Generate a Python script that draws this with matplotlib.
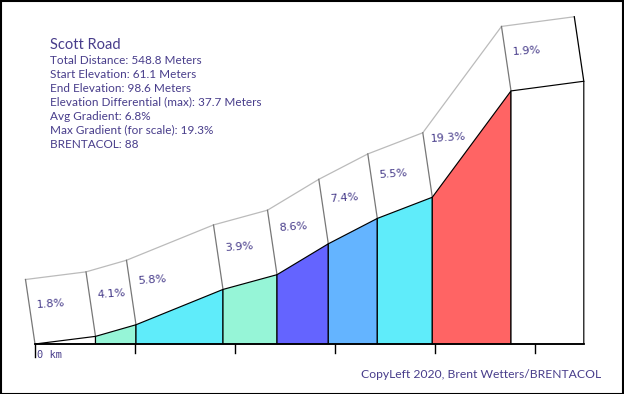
import numpy as np
import matplotlib
matplotlib.use("Agg")
import matplotlib.pyplot as plt
from matplotlib.patches import Polygon, Rectangle

# Climb data (Scott Road)
climb_name = "Scott Road"
start_elev = 61.1
seg_ends = [0, 60.5, 101, 188, 242, 293.3, 342.3, 397.3, 476, 548.8]   # meters
grades = [1.8, 4.1, 5.8, 3.9, 8.6, 7.4, 5.5, 19.3, 1.9]              # percent
info_lines = [
    "Total Distance: 548.8 Meters",
    "Start Elevation: 61.1 Meters",
    "End Elevation: 98.6 Meters",
    "Elevation Differential (max): 37.7 Meters",
    "Avg Gradient: 6.8%",
    "Max Gradient (for scale): 19.3%",
    "BRENTACOL: 88",
]
credit = "CopyLeft 2020, Brent Wetters/BRENTACOL"

TXT = "#483d8b"
VSCALE = 7.0  # pixels per meter of elevation (1 px per meter horizontally)


def grade_color(g):
    # colour scale by gradient
    if g < 2:
        return "white"
    if g < 5:
        return "#96f5d7"
    if g < 7:
        return "#5fecfa"
    if g < 8:
        return "#64b4ff"
    if g < 12:
        return "#6464ff"
    return "#ff6464"


x = np.array(seg_ends, dtype=float)
elev = start_elev + np.concatenate([[0], np.cumsum(np.diff(x) * np.array(grades) / 100)])

fig = plt.figure(figsize=(6.24, 3.94), dpi=100)
ax = fig.add_axes([0, 0, 1, 1])
ax.set_xlim(-35, 589)
ax.set_ylim(start_elev - 50 / VSCALE, start_elev + 344 / VSCALE)
ax.axis("off")

# 3D ribbon offset
dx, dy = -9.5, 64.5 / VSCALE
top_x = x + dx
top_y = elev + dy

ax.plot(top_x, top_y, color="#bbbbbb", lw=0.9, zorder=1)
for i in range(len(x)):
    c = "black" if i == len(x) - 1 else "#777777"
    ax.plot([x[i], top_x[i]], [elev[i], top_y[i]], color=c, lw=0.9, zorder=1)

# segment fills
for i, g in enumerate(grades):
    pts = [(x[i], start_elev), (x[i], elev[i]), (x[i + 1], elev[i + 1]), (x[i + 1], start_elev)]
    ax.add_patch(Polygon(pts, closed=True, facecolor=grade_color(g), edgecolor="black", lw=0.85, zorder=2))

    lx = x[i] + 16
    ly = elev[i] + 16 * g / 100 + 38 / VSCALE
    ax.text(lx, ly, f"{g}%", color=TXT, fontsize=8, family="DejaVu Sans",
            ha="center", va="center", rotation=4, zorder=3)

# distance axis
ax.plot([x[0], x[-1]], [start_elev, start_elev], color="black", lw=1.3, zorder=3)
for t in range(0, int(x[-1]) + 1, 100):
    ln = 13 if t == 0 else 9
    ax.plot([t, t], [start_elev, start_elev - ln / VSCALE], color="black", lw=1.0, zorder=3)
ax.text(2, start_elev - 10.5 / VSCALE, "0 km", family="DejaVu Sans Mono", fontsize=7.5,
        color=TXT, ha="left", va="center")

# info block
fig.text(50 / 624, 1 - 45 / 394, climb_name, color=TXT, fontsize=10.5, family="Lato", va="center")
for k, line in enumerate(info_lines):
    fig.text(50 / 624, 1 - (60 + 14 * k) / 394, line, color=TXT, fontsize=8.5,
             family="Lato", va="center")

fig.text(601 / 624, 1 - 375 / 394, credit, color=TXT, fontsize=8.7, family="Lato",
         ha="right", va="center")

# frame around the picture
fig.patches.append(Rectangle((0.5 / 624, 0.5 / 394), 1 - 1.5 / 624, 1 - 1.5 / 394,
                             transform=fig.transFigure, fill=False, edgecolor="black", lw=1.5))

fig.savefig("out.png", dpi=100)
